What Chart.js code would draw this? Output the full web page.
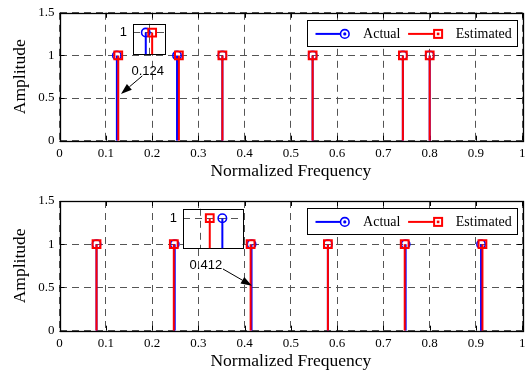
<!DOCTYPE html>
<html><head><meta charset="utf-8">
<script src="https://cdn.jsdelivr.net/npm/chart.js@4.4.1/dist/chart.umd.min.js"></script>
<style>
html,body{margin:0;padding:0;background:#fff;}
#wrap{position:relative;width:531px;height:376px;overflow:hidden;background:#fff;}
canvas{position:absolute;}
</style></head><body>
<div id="wrap">
<canvas id="c1" width="531" height="188" style="left:0;top:0;width:531px;height:188px"></canvas>
<canvas id="c2" width="531" height="188" style="left:0;top:188px;width:531px;height:188px"></canvas>
<canvas id="i1" width="72" height="58" style="left:100px;top:10px;width:72px;height:58px"></canvas>
<canvas id="i2" width="90" height="67" style="left:160px;top:195px;width:90px;height:67px"></canvas>
</div>
<script>
// ---------------- data ----------------
const X_TICKS = [0, 0.1, 0.2, 0.3, 0.4, 0.5, 0.6, 0.7, 0.8, 0.9, 1];
const Y_TICKS = [0, 0.5, 1, 1.5];
const SERIES = ['Actual', 'Estimated'];
const X_TITLE = 'Normalized Frequency';
const Y_TITLE = 'Amplitude';

const topActualFreq = [0.124, 0.254, 0.352, 0.547, 0.742, 0.800];
const topActualAmp  = [1, 1, 1, 1, 1, 1];
const topEstFreq    = [0.127, 0.258, 0.352, 0.547, 0.742, 0.800];
const topEstAmp     = [1, 1, 1, 1, 1, 1];

const botActualFreq = [0.080, 0.249, 0.415, 0.580, 0.748, 0.911];
const botActualAmp  = [1, 1, 1, 1, 1, 1];
const botEstFreq    = [0.080, 0.247, 0.413, 0.580, 0.746, 0.914];
const botEstAmp     = [1, 1, 1, 1, 1, 1];

const topInsetXRange = [0.118, 0.1328];
const topInsetXTick  = [0.1259];
const topInsetYRange = [0.97, 1.0122];
const botInsetXRange = [0.40875, 0.4182];
const botInsetXTick  = [0.4115];
const botInsetYRange = [0.97, 1.0094];
const INSET_Y_TICK   = [1];

const topNote = {text: '0.124', tx: 0.1906, ty: 0.8176, x1: 0.1789, y1: 0.7598, x2: 0.1328, y2: 0.548};
const botNote = {text: '0.412', tx: 0.3163, ty: 0.760,  x1: 0.3533, y1: 0.7135, x2: 0.4158, y2: 0.5204};

// ---------------- style ----------------
const SERIF = '"Liberation Serif","Times New Roman",serif';
const SANS = '"Liberation Sans",Arial,sans-serif';
const BLUE = '#0000ff', RED = '#ff0000';
const GRIDC = '#555555';
const DASH = [7, 5];

function stems(freqs, amps) {
  const d = [];
  freqs.forEach((f, i) => { d.push({x: f, y: 0}, {x: f, y: amps[i]}, {x: f, y: null}); });
  return d;
}
function pts(freqs, amps) { return freqs.map((f, i) => ({x: f, y: amps[i]})); }

function makeDatasets(aF, aA, eF, eA, clip) {
  return [
    {label: SERIES[1], data: pts(eF, eA), showLine: false, pointStyle: 'rect', pointRadius: 5.5, pointHoverRadius: 5.5,
     pointBorderWidth: 2, borderColor: RED, pointBorderColor: RED, backgroundColor: 'rgba(0,0,0,0)', pointBackgroundColor: 'rgba(0,0,0,0)', order: 0, clip: clip},
    {label: SERIES[1] + ' stem', data: stems(eF, eA), showLine: true, spanGaps: false, borderColor: RED, borderWidth: 2,
     pointRadius: 0, pointHoverRadius: 0, order: 1, clip: clip},
    {label: SERIES[0], data: pts(aF, aA), showLine: false, pointStyle: 'circle', pointRadius: 4.2, pointHoverRadius: 4.2,
     pointBorderWidth: 1.6, borderColor: BLUE, pointBorderColor: BLUE, backgroundColor: 'rgba(0,0,0,0)', pointBackgroundColor: 'rgba(0,0,0,0)', order: 2, clip: clip},
    {label: SERIES[0] + ' stem', data: stems(aF, aA), showLine: true, spanGaps: false, borderColor: BLUE, borderWidth: 2,
     pointRadius: 0, pointHoverRadius: 0, order: 3, clip: clip}
  ];
}

// ---------------- plugins ----------------
const bgPlugin = {
  id: 'areaBg',
  beforeDraw(chart, args, opts) {
    if (!opts.color) return;
    const a = chart.chartArea, ctx = chart.ctx;
    ctx.save(); ctx.fillStyle = opts.color; ctx.fillRect(a.left, a.top, a.width, a.height); ctx.restore();
  }
};

const framePlugin = {
  id: 'frame',
  beforeDatasetsDraw(chart, args, opts) {
    const {ctx, chartArea: a} = chart;
    const x = chart.scales.x, y = chart.scales.y;
    ctx.save();
    ctx.strokeStyle = '#000';
    const tl = opts.tick || 0;
    if (tl) {
      ctx.lineWidth = 1;
      ctx.beginPath();
      x.ticks.forEach(t => {
        const p = Math.round(x.getPixelForValue(t.value)) + 0.5;
        ctx.moveTo(p, a.bottom); ctx.lineTo(p, a.bottom - tl);
        ctx.moveTo(p, a.top); ctx.lineTo(p, a.top + tl);
      });
      y.ticks.forEach(t => {
        const p = Math.round(y.getPixelForValue(t.value)) + 0.5;
        ctx.moveTo(a.left, p); ctx.lineTo(a.left + tl, p);
        ctx.moveTo(a.right, p); ctx.lineTo(a.right - tl, p);
      });
      ctx.stroke();
    }
    ctx.lineWidth = opts.width || 1;
    ctx.strokeRect(Math.round(a.left) + 0.5, Math.round(a.top) + 0.5, Math.round(a.width), Math.round(a.height));
    ctx.restore();
  }
};

const legendPlugin = {
  id: 'boxLegend',
  afterDraw(chart, args, opts) {
    if (!opts.show) return;
    const {ctx, chartArea: a} = chart;
    const w = 210, h = 26;
    const L = Math.round(a.right - opts.offsetRight - w) + 0.5;
    const T = Math.round(a.top + opts.offsetTop) + 0.5;
    ctx.save();
    ctx.fillStyle = '#fff'; ctx.fillRect(L, T, w, h);
    ctx.strokeStyle = '#000'; ctx.lineWidth = 1; ctx.strokeRect(L, T, w, h);
    const cy = T + 13.4;
    // Actual
    ctx.strokeStyle = BLUE; ctx.lineWidth = 2;
    ctx.beginPath(); ctx.moveTo(L + 8, cy); ctx.lineTo(L + 37.3, cy); ctx.stroke();
    ctx.lineWidth = 1.6; ctx.fillStyle = '#fff';
    ctx.beginPath(); ctx.arc(L + 37.3, cy, 4.3, 0, Math.PI * 2); ctx.fill(); ctx.stroke();
    ctx.fillStyle = BLUE; ctx.beginPath(); ctx.arc(L + 37.3, cy, 1.6, 0, Math.PI * 2); ctx.fill();
    // Estimated
    ctx.strokeStyle = RED; ctx.lineWidth = 2;
    ctx.beginPath(); ctx.moveTo(L + 100.6, cy); ctx.lineTo(L + 130.6, cy); ctx.stroke();
    ctx.fillStyle = '#fff';
    ctx.fillRect(L + 126.6, cy - 4, 8, 8); ctx.strokeRect(L + 126.6, cy - 4, 8, 8);
    ctx.fillStyle = RED; ctx.fillRect(L + 129.3, cy - 1.3, 2.6, 2.6);
    // texts
    ctx.fillStyle = '#000';
    ctx.font = '14px ' + SERIF;
    ctx.textBaseline = 'middle'; ctx.textAlign = 'left';
    ctx.fillText(SERIES[0], L + 55.6, cy);
    ctx.fillText(SERIES[1], L + 148.3, cy);
    ctx.restore();
  }
};

const notePlugin = {
  id: 'note',
  afterDraw(chart, args, opts) {
    const n = opts.note; if (!n) return;
    const {ctx} = chart; const x = chart.scales.x, y = chart.scales.y;
    const tx = x.getPixelForValue(n.tx), ty = y.getPixelForValue(n.ty);
    const x1 = x.getPixelForValue(n.x1), y1 = y.getPixelForValue(n.y1);
    const x2 = x.getPixelForValue(n.x2), y2 = y.getPixelForValue(n.y2);
    ctx.save();
    ctx.fillStyle = '#000'; ctx.strokeStyle = '#000';
    ctx.font = '13px ' + SANS; ctx.textAlign = 'center'; ctx.textBaseline = 'middle';
    ctx.fillText(n.text, tx, ty);
    const ang = Math.atan2(y2 - y1, x2 - x1);
    const hl = 11, hw = 3.8;
    const bx = x2 - hl * Math.cos(ang), by = y2 - hl * Math.sin(ang);
    ctx.lineWidth = 1;
    ctx.beginPath(); ctx.moveTo(x1, y1); ctx.lineTo(bx, by); ctx.stroke();
    ctx.beginPath();
    ctx.moveTo(x2, y2);
    ctx.lineTo(bx + hw * Math.sin(ang), by - hw * Math.cos(ang));
    ctx.lineTo(bx - hw * Math.sin(ang), by + hw * Math.cos(ang));
    ctx.closePath(); ctx.fill();
    ctx.restore();
  }
};

Chart.register(bgPlugin, framePlugin, legendPlugin, notePlugin);

function fmt(v) { return String(Math.round(v * 100) / 100); }

function mainChart(id, padTop, axisH, titlePadBottom, aF, aA, eF, eA, note) {
  return new Chart(document.getElementById(id), {
    type: 'scatter',
    data: {datasets: makeDatasets(aF, aA, eF, eA, undefined)},
    options: {
      responsive: false, animation: false, events: [],
      layout: {padding: {left: 0, right: 3, top: padTop, bottom: 0}},
      plugins: {
        legend: {display: false}, tooltip: {enabled: false},
        areaBg: {color: null},
        frame: {tick: 5, width: 1.3},
        boxLegend: {show: true, offsetRight: 5.5, offsetTop: 7},
        note: {note: note}
      },
      scales: {
        x: {
          type: 'linear', min: X_TICKS[0], max: X_TICKS[X_TICKS.length - 1],
          afterBuildTicks: s => { s.ticks = X_TICKS.map(v => ({value: v})); },
          afterFit: s => { s.height = axisH; },
          ticks: {color: '#000', font: {family: SERIF, size: 13}, padding: 5.5, maxRotation: 0, autoSkip: false, callback: v => fmt(v)},
          grid: {color: GRIDC, lineWidth: 1, drawTicks: false},
          border: {display: false, dash: DASH},
          title: {display: true, text: X_TITLE, color: '#000', font: {family: SERIF, size: 17.5}, padding: {top: 0, bottom: titlePadBottom}}
        },
        y: {
          type: 'linear', min: Y_TICKS[0], max: Y_TICKS[Y_TICKS.length - 1],
          afterBuildTicks: s => { s.ticks = Y_TICKS.map(v => ({value: v})); },
          afterFit: s => { s.width = 59.5; },
          ticks: {color: '#000', font: {family: SERIF, size: 13}, padding: 5, autoSkip: false, callback: v => fmt(v)},
          grid: {color: GRIDC, lineWidth: 1, drawTicks: false},
          border: {display: false, dash: DASH},
          title: {display: true, text: Y_TITLE, color: '#000', font: {family: SERIF, size: 17.5}, padding: {top: 9.7, bottom: 0}}
        }
      }
    }
  });
}

function insetChart(id, pad, yW, xr, xt, yr, aF, aA, eF, eA) {
  return new Chart(document.getElementById(id), {
    type: 'scatter',
    data: {datasets: makeDatasets(aF, aA, eF, eA, 0)},
    options: {
      responsive: false, animation: false, events: [],
      layout: {padding: pad},
      plugins: {
        legend: {display: false}, tooltip: {enabled: false},
        areaBg: {color: '#ffffff'},
        frame: {tick: 0, width: 1},
        boxLegend: {show: false}, note: {note: null}
      },
      scales: {
        x: {
          type: 'linear', min: xr[0], max: xr[1],
          afterBuildTicks: s => { s.ticks = xt.map(v => ({value: v})); },
          afterFit: s => { s.height = 0; },
          ticks: {display: false},
          grid: {color: GRIDC, lineWidth: 1, drawTicks: false},
          border: {display: false, dash: DASH}
        },
        y: {
          type: 'linear', min: yr[0], max: yr[1],
          afterBuildTicks: s => { s.ticks = INSET_Y_TICK.map(v => ({value: v})); },
          afterFit: s => { s.width = yW; },
          ticks: {color: '#000', font: {family: SANS, size: 13}, padding: 6, callback: v => fmt(v)},
          grid: {color: GRIDC, lineWidth: 1, drawTicks: false},
          border: {display: false, dash: DASH}
        }
      }
    }
  });
}

mainChart('c1', 11, 47.3, 6.3, topActualFreq, topActualAmp, topEstFreq, topEstAmp, topNote);
mainChart('c2', 13, 45.3, 4.3, botActualFreq, botActualAmp, botEstFreq, botEstAmp, botNote);
insetChart('i1', {left: 0, right: 2, top: 11, bottom: 10}, 33, topInsetXRange, topInsetXTick, topInsetYRange,
  topActualFreq, topActualAmp, topEstFreq, topEstAmp);
insetChart('i2', {left: 0, right: 7, top: 8, bottom: 10}, 23, botInsetXRange, botInsetXTick, botInsetYRange,
  botActualFreq, botActualAmp, botEstFreq, botEstAmp);
</script>
</body></html>
